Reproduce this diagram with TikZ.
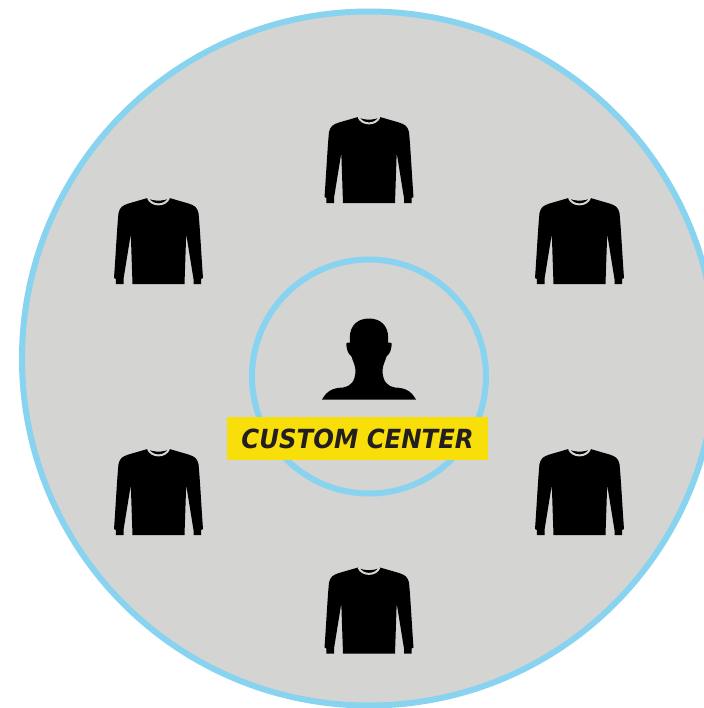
\documentclass[tikz,border=0pt]{standalone}
\usepackage{fontspec}
\setmainfont{DejaVu Sans}
\usetikzlibrary{positioning}
\definecolor{ring}{RGB}{135,211,240}
\definecolor{disc}{RGB}{212,212,211}
\definecolor{banner}{RGB}{249,223,10}
\definecolor{ink}{RGB}{35,31,32}
\definecolor{collar}{RGB}{215,215,210}
\tikzset{
  shirt/.pic={
    \fill[black] (-11,0) .. controls (-6,3.5) and (6,3.5) .. (11,0)
      -- (30,5.5) .. controls (36,7.5) and (38.5,9) .. (40,15)
      .. controls (41.5,30) and (43,60) .. (44.5,80) -- (42.7,81) -- (42.7,86) -- (35,86) -- (35,81)
      -- (27.7,36) -- (26,86) -- (-26,86) -- (-27.7,36) -- (-35,81) -- (-35,86) -- (-42.7,86) -- (-42.7,81) -- (-44.5,80)
      .. controls (-43,60) and (-41.5,30) .. (-40,15)
      .. controls (-38.5,9) and (-36,7.5) .. (-30,5.5) -- cycle;
    \draw[collar,line width=0.4mm] (-10.5,0) .. controls (-7,8.5) and (7,8.5) .. (10.5,0);
  }
}
\begin{document}
\begin{tikzpicture}[x=0.02cm,y=-0.02cm]
  \path[use as bounding box,clip] (0,0) rectangle (704,708);
  \fill[white] (0,0) rectangle (704,708);
  \fill[disc,draw=ring,line width=1.2mm] (369,358.5) circle (347);
  \draw[ring,line width=1.2mm] (369,376.5) circle (117);
  % the six shirts
  \pic at (369,117) {shirt};
  \pic at (158.5,198) {shirt};
  \pic at (579.5,198) {shirt};
  \pic at (158.5,449) {shirt};
  \pic at (579.5,449) {shirt};
  \pic at (369,567.5) {shirt};
  % person
  \fill[black] (322,399.5) .. controls (327,391) and (332,388) .. (343,387.5)
    .. controls (350,386.5) and (355.5,382) .. (355.5,370)
    .. controls (355,364) and (352.5,361) .. (351.7,356.7)
    .. controls (348,354) and (346.3,349) .. (346.3,343.5)
    .. controls (347,342.5) and (348.5,342.5) .. (349.8,342.5)
    -- (349.8,338) .. controls (349.8,325) and (358,318.5) .. (369,318.5)
    .. controls (380,318.5) and (388.2,325) .. (388.2,338) -- (388.2,342.5)
    .. controls (389.5,342.5) and (391,342.5) .. (391.7,343.5)
    .. controls (391.7,349) and (390,354) .. (386.3,356.7)
    .. controls (385.5,361) and (383,364) .. (382.5,370)
    .. controls (382.5,382) and (388,386.5) .. (395,387.5)
    .. controls (406,388) and (411,391) .. (416,399.5) -- cycle;
  % label
  \node[fill=banner,text=ink,font=\bfseries\itshape\fontsize{15}{18}\selectfont,
    minimum width=5.22cm,minimum height=0.86cm,inner sep=0pt] (center) at (357.6,438.5) {\scalebox{0.925}[1]{CUSTOM CENTER}};
\end{tikzpicture}
\end{document}
